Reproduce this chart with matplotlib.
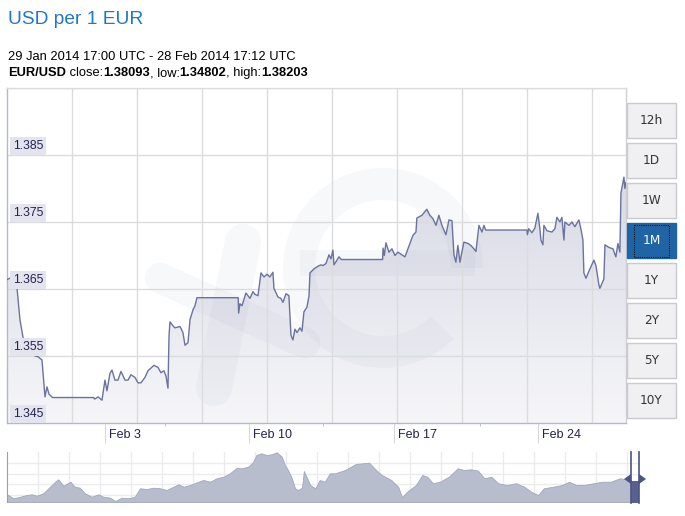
import datetime as dt
import numpy as np
import matplotlib
matplotlib.use("Agg")
import matplotlib.pyplot as plt
from matplotlib.patches import Rectangle, Polygon, Wedge
from matplotlib.lines import Line2D
from matplotlib.colors import LinearSegmentedColormap

plt.rcParams["font.family"] = ["Liberation Sans", "DejaVu Sans"]

W, H = 685, 516
START = dt.datetime(2014, 1, 29, 17, 0)
END_H = 720.2  # 28 Feb 2014 17:12 UTC

# EUR/USD, hours after START -> rate
hours = [
    0.0, 4.7, 11.6, 15.1, 18.6, 23.3, 26.8, 29.1, 32.6, 36.1, 40.7, 44.2, 46.5, 48.9, 53.0,
    101.0, 101.5, 102.5, 106.0, 110.5, 114.0, 116.3, 119.8, 122.1, 125.6, 129.1, 132.6,
    137.3, 140.8, 144.2, 148.9, 152.4, 155.9, 160.5, 164.0, 167.5, 171.0, 175.7, 179.1,
    182.6, 185.0, 187.3, 188.5, 189.6, 193.1, 195.4, 201.3, 204.7, 207.1, 210.6, 212.9,
    216.4, 218.7, 221.0,
    269.0, 269.5, 271.0, 273.4, 278.0, 282.7, 286.2, 288.5, 292.0, 295.5, 299.0, 302.5,
    305.9, 309.4, 310.6, 315.3, 318.7, 321.1, 324.6, 328.0, 330.4, 332.7, 335.0, 337.4,
    340.8, 343.2, 345.5, 349.0, 351.4, 352.5, 357.1, 361.8, 365.3, 367.6, 371.1, 374.6,
    376.9, 379.2, 380.4, 383.9, 386.2, 389.0,
    437.0, 437.5, 439.0, 440.9, 444.4, 447.9, 451.4, 454.8, 458.3, 463.0, 466.5, 470.0,
    472.3, 475.8, 476.9, 482.7, 488.5, 492.0, 495.6, 499.1, 502.5, 506.0, 510.7, 514.2,
    517.7, 520.0, 522.3, 524.6, 527.0, 531.6, 536.3, 539.7, 543.2, 545.6, 549.1, 552.6,
    554.9, 557.0,
    605.0, 605.5, 607.0, 610.7, 614.2, 617.7, 620.0, 621.2, 623.5, 624.7, 628.2, 634.0,
    637.5, 639.8, 643.3, 645.6, 648.0, 649.1, 653.8, 657.3, 660.7, 665.4, 667.7, 670.1,
    671.2, 673.6, 678.2, 682.9, 685.2, 688.7, 689.8, 694.5, 695.7, 700.3, 705.0, 708.4,
    710.8, 713.1, 714.3, 717.8, 718.9, 720.2,
]
rate = [
    1.3664, 1.3667, 1.3652, 1.3604, 1.3578, 1.3551, 1.3556, 1.3554, 1.3550, 1.3549, 1.3544,
    1.3489, 1.3504, 1.3493, 1.3488,
    1.3488, 1.3486, 1.3486, 1.3489, 1.3484, 1.3514, 1.3498, 1.3524, 1.3529, 1.3514, 1.3514,
    1.3527, 1.3514, 1.3514, 1.3522, 1.3518, 1.3510, 1.3510, 1.3518, 1.3528, 1.3532, 1.3536,
    1.3533, 1.3525, 1.3528, 1.3520, 1.3502, 1.3580, 1.3601, 1.3595, 1.3592, 1.3594, 1.3585,
    1.3566, 1.3570, 1.3604, 1.3619, 1.3625, 1.3637,
    1.3637, 1.3614, 1.3628, 1.3625, 1.3644, 1.3636, 1.3646, 1.3642, 1.3640, 1.3674, 1.3668,
    1.3672, 1.3668, 1.3675, 1.3651, 1.3638, 1.3636, 1.3630, 1.3643, 1.3640, 1.3581, 1.3574,
    1.3590, 1.3585, 1.3592, 1.3587, 1.3616, 1.3623, 1.3640, 1.3674, 1.3680, 1.3684, 1.3686,
    1.3685, 1.3688, 1.3701, 1.3695, 1.3708, 1.3686, 1.3693, 1.3698, 1.3694,
    1.3694, 1.3711, 1.3700, 1.3719, 1.3705, 1.3710, 1.3700, 1.3705, 1.3702, 1.3698, 1.3710,
    1.3722, 1.3730, 1.3735, 1.3756, 1.3760, 1.3769, 1.3760, 1.3755, 1.3745, 1.3760, 1.3745,
    1.3731, 1.3753, 1.3752, 1.3701, 1.3690, 1.3715, 1.3690, 1.3720, 1.3718, 1.3715, 1.3710,
    1.3706, 1.3745, 1.3735, 1.3745, 1.3738,
    1.3738, 1.3731, 1.3740, 1.3734, 1.3741, 1.3763, 1.3740, 1.3723, 1.3716, 1.3745, 1.3737,
    1.3735, 1.3740, 1.3757, 1.3750, 1.3757, 1.3723, 1.3750, 1.3745, 1.3750, 1.3743, 1.3753,
    1.3740, 1.3723, 1.3674, 1.3666, 1.3680, 1.3693, 1.3685, 1.3656, 1.3651, 1.3665, 1.3716,
    1.3712, 1.3710, 1.3698, 1.3718, 1.3705, 1.3793, 1.3817, 1.3800, 1.3809,
]

y_ticks = [1.345, 1.355, 1.365, 1.375, 1.385]
y_labels = ["1.345", "1.355", "1.365", "1.375", "1.385"]
x_tick_days = [3, 10, 17, 24]
x_tick_labels = ["Feb 3", "Feb 10", "Feb 17", "Feb 24"]

# navigator (long range overview): position in % of span -> relative level
nav_pos = [
    0.0, 1.0, 2.1, 3.1, 3.9, 4.7, 5.7, 6.8, 7.6, 8.1, 8.9, 10.0, 10.7, 11.5, 12.3, 13.4,
    14.4, 15.2, 16.3, 17.1, 18.1, 19.2, 20.2, 21.0, 22.1, 23.1, 24.2, 25.2, 26.3, 27.1,
    27.9, 28.9, 30.0, 31.0, 32.1, 33.1, 34.2, 35.2, 36.3, 37.1, 38.1, 38.9, 39.4, 40.2,
    41.0, 41.8, 42.6, 43.4, 43.9, 44.4, 45.0, 45.5, 46.0, 46.6, 46.9, 47.3, 47.9, 48.7,
    49.4, 50.2, 51.0, 51.8, 52.6, 53.4, 55.1, 57.2, 58.3, 59.2, 60.7, 61.8, 62.4, 63.2,
    64.6, 65.6, 66.4, 67.3, 68.4, 69.8, 71.2, 72.2, 73.3, 74.4, 75.4, 76.5, 77.6, 79.0,
    80.4, 81.7, 82.8, 83.9, 84.8, 86.3, 87.7, 88.8, 89.9, 91.2, 92.6, 94.0, 95.4, 96.8,
    97.9, 98.6,
]
nav_level = [
    7.7, 3.7, 5.3, 7.0, 7.7, 6.3, 8.7, 15.3, 20.3, 22.7, 16.3, 20.3, 15.3, 14.3, 8.7, 5.3,
    7.7, 5.3, 4.3, 1.0, 4.3, 3.7, 5.3, 13.7, 13.0, 14.3, 13.7, 12.0, 15.3, 17.7,
    15.3, 17.0, 19.7, 22.0, 20.3, 23.7, 25.3, 28.7, 34.3, 33.7, 35.3, 40.3, 47.0, 48.7,
    47.0, 47.7, 49.7, 45.3, 37.0, 32.0, 23.7, 13.7, 12.0, 14.3, 31.0, 25.3, 17.0, 13.7,
    22.0, 20.3, 28.7, 28.7, 30.3, 32.0, 38.0, 39.3, 32.0, 27.0, 22.0, 15.3, 4.7, 10.3,
    17.0, 27.0, 25.3, 18.7, 20.3, 25.3, 33.7, 32.0, 32.7, 31.3, 23.7, 25.3, 18.7, 17.0,
    18.7, 15.3, 10.3, 7.0, 13.7, 15.3, 17.0, 20.3, 17.0, 17.0, 18.7, 20.3, 20.3, 23.7,
    22.7, 22.0,
]

ranges = ["12h", "1D", "1W", "1M", "1Y", "2Y", "5Y", "10Y"]
active_range = "1M"

LINE = "#6b739c"
GRID = "#dcdcdf"
NAVY = "#23234f"
MARK = "#7f87ab"


def px_axes(fig, left, top, right, bottom):
    return fig.add_axes([left / W, 1 - bottom / H, (right - left) / W, (bottom - top) / H])


fig = plt.figure(figsize=(W / 100, H / 100), dpi=100)
fig.patch.set_facecolor("white")

# overlay in pixel coordinates (drawn last via zorder)
ov = fig.add_axes([0, 0, 1, 1])
ov.set_xlim(0, W)
ov.set_ylim(H, 0)
ov.axis("off")
ov.patch.set_alpha(0)
ov.set_zorder(10)

# ---- main chart -------------------------------------------------------
ax = px_axes(fig, 7, 88, 626, 423)
ax.set_xlim(0, END_H)
ax.set_ylim(1.345, 1.395)

poly = ax.fill_between(hours, rate, 1.345, facecolor="none", edgecolor="none")
cmap = LinearSegmentedColormap.from_list("fill", ["#f6f6f9", "#cdd0de"])
grad = np.linspace(0, 1, 256).reshape(-1, 1)
img = ax.imshow(grad, cmap=cmap, origin="lower", aspect="auto",
                extent=[0, END_H, 1.345, 1.395], zorder=1)
img.set_clip_path(poly.get_paths()[0], transform=ax.transData)
ax.set_xlim(0, END_H)
ax.set_ylim(1.345, 1.395)

# faint "xe" watermark
wm_alpha = 0.055
for xs, ys, w in [([243, 214], [242, 388], 26), ([160, 305], [278, 343], 22)]:
    ax.add_line(Line2D(xs, ys, transform=ov.transData, color=MARK, alpha=wm_alpha, lw=w,
                       solid_capstyle="round", zorder=1.5))
ax.add_patch(Wedge((383, 268), 100, 45, 360, width=32, transform=ov.transData,
                   fc=MARK, ec="none", alpha=wm_alpha, zorder=1.5))
ax.add_patch(Rectangle((300, 250), 175, 26, transform=ov.transData,
                       fc=MARK, ec="none", alpha=wm_alpha, zorder=1.5))

for v in y_ticks[1:] + [1.395]:
    ax.axhline(v, color=GRID, lw=1, zorder=2)
grid_step = END_H * 65 / 619
for g in np.arange(grid_step, END_H, grid_step):
    ax.axvline(g, color=GRID, lw=1, zorder=2)

ax.plot(hours, rate, color=LINE, lw=1.0, zorder=3)

for v, lab in zip(y_ticks, y_labels):
    ax.annotate(lab, (0, v), xycoords=("axes fraction", "data"),
                xytext=(6, 3), textcoords="offset pixels", ha="left", va="bottom",
                fontsize=8.7, color=NAVY, zorder=5,
                bbox=dict(boxstyle="square,pad=0.25", fc="#e4e4ee", ec="none"))

tick_h = [(dt.datetime(2014, 2, d, 11) - START).total_seconds() / 3600 for d in x_tick_days]
ax.set_xticks(tick_h)
ax.set_xticklabels([])
ax.set_xticks([END_H * f for f in (158 / 619, 316 / 619, 473 / 619)], minor=True)
ax.tick_params(axis="x", which="major", length=14.5, width=0.7, color="#d6d6dc", direction="out")
ax.tick_params(axis="x", which="minor", length=2.5, width=0.7, color="#b8bccc", direction="out")
ax.set_yticks([])
for h, lab in zip(tick_h, x_tick_labels):
    ax.annotate(lab, (h, 1.345), xytext=(4, -6), textcoords="offset pixels",
                ha="left", va="top", fontsize=9, color=NAVY, annotation_clip=False)

ax.spines["left"].set_color("#b4b8cc")
ax.spines["bottom"].set_color("#b4b8cc")
ax.spines["top"].set_color(GRID)
ax.spines["right"].set_color("#cfcfd4")
for s in ax.spines.values():
    s.set_linewidth(1)

# ---- navigator --------------------------------------------------------
nav = px_axes(fig, 7, 452, 640, 502)
nav.set_xlim(0, 100)
nav.set_ylim(0, 50)
for lv in (7, 18, 28, 39):
    nav.axhline(lv, color="#ececee", lw=1, zorder=0)
for g in np.arange(31 / 6.33, 100, 31 / 6.33):
    nav.axvline(g, color="#ececee", lw=1, zorder=0)
nav.fill_between(nav_pos, nav_level, 0, facecolor="#b8bdcd", edgecolor="#a2a7ba", lw=0.6, zorder=1)
nav.set_xticks([])
nav.set_yticks([])
for k, s in nav.spines.items():
    s.set_visible(k == "left")
nav.spines["left"].set_color("#9a9eb4")

# ---- header -----------------------------------------------------------
ov.text(8, 24, "USD per 1 EUR", fontsize=13.8, color="#1f78c8", va="baseline")
ov.text(8, 60, "29 Jan 2014 17:00 UTC - 28 Feb 2014 17:12 UTC", fontsize=9.3, va="baseline")

renderer = fig.canvas.get_renderer()
x = 8
for s, bold in [("EUR/USD", True), (" close:", False), ("1.38093", True), (", low:", False),
                ("1.34802", True), (", high:", False), ("1.38203", True)]:
    t = ov.text(x, 76, s, fontsize=9.3, fontweight="bold" if bold else "normal", va="baseline")
    x += t.get_window_extent(renderer).width

# range buttons
for i, lab in enumerate(ranges):
    top = 103 + 40 * i
    on = lab == active_range
    ov.add_patch(Rectangle((627, top), 49, 35, fc="#1f65a5" if on else "#f0f0f3",
                           ec="#1f65a5" if on else "#c9c9cf", lw=1))
    if on:
        ov.add_patch(Rectangle((634, top + 1.5), 35, 32, fc="none", ec="#111111",
                               lw=0.8, ls=(0, (1, 1))))
    ov.text(651.5, top + 17.5, lab, ha="center", va="center", fontsize=8.7,
            family="DejaVu Sans", color="white" if on else "#333333")

# navigator handle
ov.add_patch(Rectangle((631, 481), 8, 22, fc="#5a6090", ec="none"))
ov.plot([631, 631], [452, 503], color="#4d5385", lw=1.2)
ov.plot([639, 639], [452, 503], color="#4d5385", lw=1.2)
ov.add_patch(Polygon([[624, 479], [631, 474], [631, 484]], fc="#4d5385", ec="none"))
ov.add_patch(Polygon([[646, 479], [639, 474], [639, 484]], fc="#4d5385", ec="none"))

fig.savefig("out.png", dpi=100)
